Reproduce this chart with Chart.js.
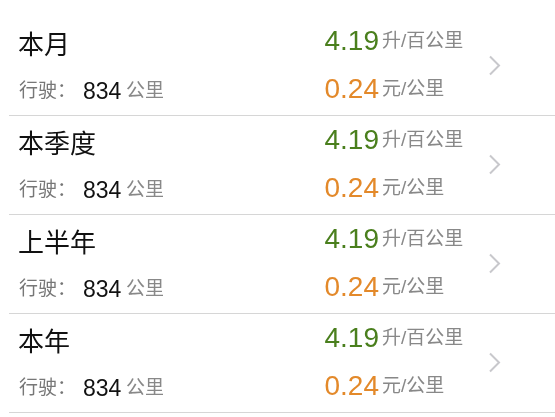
<!DOCTYPE html>
<html><head><meta charset="utf-8">
<script src="https://cdn.jsdelivr.net/npm/chart.js@4"></script>
<style>html,body{margin:0;padding:0;background:#fff}#w{width:555px;height:417px}</style>
</head><body><div id="w"><canvas id="c"></canvas></div>
<script>
const periods = ['本月','本季度','上半年','本年'];
const distance = [834,834,834,834];
const fuelPer100 = [4.19,4.19,4.19,4.19];
const costPerKm = [0.24,0.24,0.24,0.24];
const F = '"Liberation Sans","Noto Sans CJK SC",sans-serif';
const rowPlugin = {
  id:'rows',
  afterDraw(chart){
    const ctx = chart.ctx, y = chart.scales.y, W = chart.width;
    const half = (y.getPixelForValue(1)-y.getPixelForValue(0))/2;
    ctx.save();
    periods.forEach((p,i)=>{
      const c = y.getPixelForValue(i);
      const t = c-19, s = c+26;
      ctx.textBaseline='middle';
      ctx.textAlign='left';
      ctx.fillStyle='#111'; ctx.font='26px '+F; ctx.fillText(p,18,t);
      ctx.fillStyle='#777'; ctx.font='19px '+F; ctx.fillText('行驶：',19,s);
      ctx.fillStyle='#111'; ctx.font='23px '+F; ctx.fillText(String(distance[i]),83,s+1);
      ctx.fillStyle='#888'; ctx.font='19px '+F; ctx.fillText('公里',126,s);
      ctx.textAlign='right';
      ctx.fillStyle='#4a7f1d'; ctx.font='28px '+F; ctx.fillText(fuelPer100[i].toFixed(2),379,c-23);
      ctx.fillStyle='#e3892a'; ctx.fillText(costPerKm[i].toFixed(2),379,c+25);
      ctx.textAlign='left';
      ctx.fillStyle='#888'; ctx.font='19px '+F;
      ctx.fillText('升/百公里',382,c-24); ctx.fillText('元/公里',382,c+24);
      ctx.strokeStyle='#c8c8cc'; ctx.lineWidth=2;
      ctx.beginPath(); ctx.moveTo(490,c-9); ctx.lineTo(499,c); ctx.lineTo(490,c+9); ctx.stroke();
      ctx.strokeStyle='#d6d6d6'; ctx.lineWidth=1;
      ctx.beginPath(); ctx.moveTo(9,Math.round(c+half)+0.5); ctx.lineTo(W,Math.round(c+half)+0.5); ctx.stroke();
    });
    ctx.restore();
  }
};
new Chart(document.getElementById('c'),{
  type:'bar',
  data:{labels:periods,datasets:[{data:distance,backgroundColor:'rgba(0,0,0,0)'}]},
  options:{indexAxis:'y',responsive:true,maintainAspectRatio:false,animation:false,
    layout:{padding:{top:16,bottom:5,left:0,right:0}},
    plugins:{legend:{display:false},tooltip:{enabled:false}},
    scales:{y:{display:false,offset:true},x:{display:false,min:0,max:1000}}},
  plugins:[rowPlugin]
});
</script></body></html>
